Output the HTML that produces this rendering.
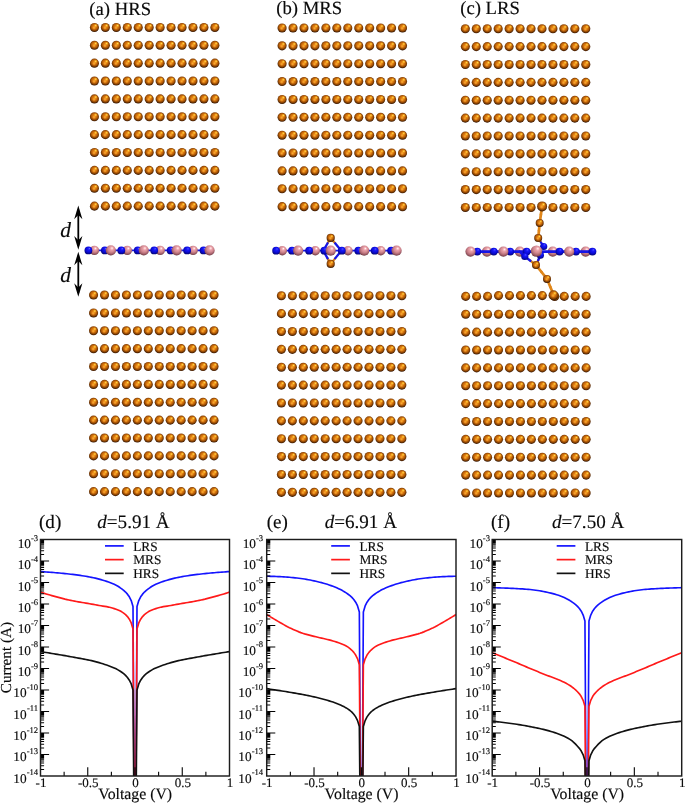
<!DOCTYPE html><html><head><meta charset="utf-8"><title>fig</title><style>html,body{margin:0;padding:0;background:#fff}svg{display:block}text{font-family:"Liberation Serif",serif;fill:#0a0a0a;stroke:#0a0a0a;stroke-width:0.15px;text-rendering:geometricPrecision}</style></head><body>
<svg width="685" height="804" viewBox="0 0 685 804">
<defs>
<radialGradient id="gcu" cx="0.5" cy="0.43" r="0.57">
<stop offset="0" stop-color="#ea8c18"/><stop offset="0.3" stop-color="#dc7a10"/><stop offset="0.5" stop-color="#c4660a"/><stop offset="0.66" stop-color="#9e5006"/><stop offset="0.8" stop-color="#743803"/><stop offset="0.92" stop-color="#4a2001"/><stop offset="1" stop-color="#2a1000"/>
</radialGradient>
<radialGradient id="ghl" cx="0.5" cy="0.5" r="0.5"><stop offset="0" stop-color="#ffe858" stop-opacity="1"/><stop offset="0.35" stop-color="#ffc030" stop-opacity="0.8"/><stop offset="1" stop-color="#ffa020" stop-opacity="0"/></radialGradient>
<radialGradient id="gsp" cx="0.5" cy="0.5" r="0.5"><stop offset="0" stop-color="#ffb438" stop-opacity="0.85"/><stop offset="1" stop-color="#ffb040" stop-opacity="0"/></radialGradient>
<radialGradient id="gb" cx="0.5" cy="0.4" r="0.63" fx="0.63" fy="0.27">
<stop offset="0" stop-color="#7c7cff"/><stop offset="0.12" stop-color="#3434ff"/><stop offset="0.3" stop-color="#1616f4"/><stop offset="0.58" stop-color="#0c0cd8"/><stop offset="0.78" stop-color="#0707a8"/><stop offset="1" stop-color="#030360"/>
</radialGradient>
<radialGradient id="gp" cx="0.5" cy="0.4" r="0.63" fx="0.63" fy="0.27">
<stop offset="0" stop-color="#ffffff"/><stop offset="0.1" stop-color="#ffd2d4"/><stop offset="0.27" stop-color="#e8a0a8"/><stop offset="0.5" stop-color="#d48a92"/><stop offset="0.7" stop-color="#b26c76"/><stop offset="0.87" stop-color="#884c56"/><stop offset="1" stop-color="#562a31"/>
</radialGradient>
<g id="cu"><circle r="4.55" fill="url(#gcu)"/><circle cx="-0.4" cy="0.4" r="1.9" fill="url(#gsp)"/><circle cx="1.25" cy="-1.85" r="2.0" fill="url(#ghl)"/></g>
<circle id="bn" r="3.9" fill="url(#gb)"/>
<circle id="bb" r="5.1" fill="url(#gp)"/>
<circle id="bs" r="4.7" fill="url(#gp)"/>
</defs>
<rect width="685" height="804" fill="#fff"/>
<g opacity="0.999">
<g><use href="#cu" x="94.43" y="27.43"/><use href="#cu" x="105.38" y="27.43"/><use href="#cu" x="116.33" y="27.43"/><use href="#cu" x="127.28" y="27.43"/><use href="#cu" x="138.23" y="27.43"/><use href="#cu" x="149.18" y="27.43"/><use href="#cu" x="160.13" y="27.43"/><use href="#cu" x="171.08" y="27.43"/><use href="#cu" x="182.03" y="27.43"/><use href="#cu" x="192.98" y="27.43"/><use href="#cu" x="203.93" y="27.43"/><use href="#cu" x="214.88" y="27.43"/><use href="#cu" x="94.43" y="45.3"/><use href="#cu" x="105.38" y="45.3"/><use href="#cu" x="116.33" y="45.3"/><use href="#cu" x="127.28" y="45.3"/><use href="#cu" x="138.23" y="45.3"/><use href="#cu" x="149.18" y="45.3"/><use href="#cu" x="160.13" y="45.3"/><use href="#cu" x="171.08" y="45.3"/><use href="#cu" x="182.03" y="45.3"/><use href="#cu" x="192.98" y="45.3"/><use href="#cu" x="203.93" y="45.3"/><use href="#cu" x="214.88" y="45.3"/><use href="#cu" x="94.43" y="63.17"/><use href="#cu" x="105.38" y="63.17"/><use href="#cu" x="116.33" y="63.17"/><use href="#cu" x="127.28" y="63.17"/><use href="#cu" x="138.23" y="63.17"/><use href="#cu" x="149.18" y="63.17"/><use href="#cu" x="160.13" y="63.17"/><use href="#cu" x="171.08" y="63.17"/><use href="#cu" x="182.03" y="63.17"/><use href="#cu" x="192.98" y="63.17"/><use href="#cu" x="203.93" y="63.17"/><use href="#cu" x="214.88" y="63.17"/><use href="#cu" x="94.43" y="81.04"/><use href="#cu" x="105.38" y="81.04"/><use href="#cu" x="116.33" y="81.04"/><use href="#cu" x="127.28" y="81.04"/><use href="#cu" x="138.23" y="81.04"/><use href="#cu" x="149.18" y="81.04"/><use href="#cu" x="160.13" y="81.04"/><use href="#cu" x="171.08" y="81.04"/><use href="#cu" x="182.03" y="81.04"/><use href="#cu" x="192.98" y="81.04"/><use href="#cu" x="203.93" y="81.04"/><use href="#cu" x="214.88" y="81.04"/><use href="#cu" x="94.43" y="98.91"/><use href="#cu" x="105.38" y="98.91"/><use href="#cu" x="116.33" y="98.91"/><use href="#cu" x="127.28" y="98.91"/><use href="#cu" x="138.23" y="98.91"/><use href="#cu" x="149.18" y="98.91"/><use href="#cu" x="160.13" y="98.91"/><use href="#cu" x="171.08" y="98.91"/><use href="#cu" x="182.03" y="98.91"/><use href="#cu" x="192.98" y="98.91"/><use href="#cu" x="203.93" y="98.91"/><use href="#cu" x="214.88" y="98.91"/><use href="#cu" x="94.43" y="116.78"/><use href="#cu" x="105.38" y="116.78"/><use href="#cu" x="116.33" y="116.78"/><use href="#cu" x="127.28" y="116.78"/><use href="#cu" x="138.23" y="116.78"/><use href="#cu" x="149.18" y="116.78"/><use href="#cu" x="160.13" y="116.78"/><use href="#cu" x="171.08" y="116.78"/><use href="#cu" x="182.03" y="116.78"/><use href="#cu" x="192.98" y="116.78"/><use href="#cu" x="203.93" y="116.78"/><use href="#cu" x="214.88" y="116.78"/><use href="#cu" x="94.43" y="134.65"/><use href="#cu" x="105.38" y="134.65"/><use href="#cu" x="116.33" y="134.65"/><use href="#cu" x="127.28" y="134.65"/><use href="#cu" x="138.23" y="134.65"/><use href="#cu" x="149.18" y="134.65"/><use href="#cu" x="160.13" y="134.65"/><use href="#cu" x="171.08" y="134.65"/><use href="#cu" x="182.03" y="134.65"/><use href="#cu" x="192.98" y="134.65"/><use href="#cu" x="203.93" y="134.65"/><use href="#cu" x="214.88" y="134.65"/><use href="#cu" x="94.43" y="152.52"/><use href="#cu" x="105.38" y="152.52"/><use href="#cu" x="116.33" y="152.52"/><use href="#cu" x="127.28" y="152.52"/><use href="#cu" x="138.23" y="152.52"/><use href="#cu" x="149.18" y="152.52"/><use href="#cu" x="160.13" y="152.52"/><use href="#cu" x="171.08" y="152.52"/><use href="#cu" x="182.03" y="152.52"/><use href="#cu" x="192.98" y="152.52"/><use href="#cu" x="203.93" y="152.52"/><use href="#cu" x="214.88" y="152.52"/><use href="#cu" x="94.43" y="170.39"/><use href="#cu" x="105.38" y="170.39"/><use href="#cu" x="116.33" y="170.39"/><use href="#cu" x="127.28" y="170.39"/><use href="#cu" x="138.23" y="170.39"/><use href="#cu" x="149.18" y="170.39"/><use href="#cu" x="160.13" y="170.39"/><use href="#cu" x="171.08" y="170.39"/><use href="#cu" x="182.03" y="170.39"/><use href="#cu" x="192.98" y="170.39"/><use href="#cu" x="203.93" y="170.39"/><use href="#cu" x="214.88" y="170.39"/><use href="#cu" x="94.43" y="188.26"/><use href="#cu" x="105.38" y="188.26"/><use href="#cu" x="116.33" y="188.26"/><use href="#cu" x="127.28" y="188.26"/><use href="#cu" x="138.23" y="188.26"/><use href="#cu" x="149.18" y="188.26"/><use href="#cu" x="160.13" y="188.26"/><use href="#cu" x="171.08" y="188.26"/><use href="#cu" x="182.03" y="188.26"/><use href="#cu" x="192.98" y="188.26"/><use href="#cu" x="203.93" y="188.26"/><use href="#cu" x="214.88" y="188.26"/><use href="#cu" x="94.43" y="206.13"/><use href="#cu" x="105.38" y="206.13"/><use href="#cu" x="116.33" y="206.13"/><use href="#cu" x="127.28" y="206.13"/><use href="#cu" x="138.23" y="206.13"/><use href="#cu" x="149.18" y="206.13"/><use href="#cu" x="160.13" y="206.13"/><use href="#cu" x="171.08" y="206.13"/><use href="#cu" x="182.03" y="206.13"/><use href="#cu" x="192.98" y="206.13"/><use href="#cu" x="203.93" y="206.13"/><use href="#cu" x="214.88" y="206.13"/><use href="#cu" x="93.56" y="295.06"/><use href="#cu" x="104.51" y="295.06"/><use href="#cu" x="115.46" y="295.06"/><use href="#cu" x="126.41" y="295.06"/><use href="#cu" x="137.36" y="295.06"/><use href="#cu" x="148.31" y="295.06"/><use href="#cu" x="159.26" y="295.06"/><use href="#cu" x="170.21" y="295.06"/><use href="#cu" x="181.16" y="295.06"/><use href="#cu" x="192.11" y="295.06"/><use href="#cu" x="203.06" y="295.06"/><use href="#cu" x="214.01" y="295.06"/><use href="#cu" x="93.56" y="312.93"/><use href="#cu" x="104.51" y="312.93"/><use href="#cu" x="115.46" y="312.93"/><use href="#cu" x="126.41" y="312.93"/><use href="#cu" x="137.36" y="312.93"/><use href="#cu" x="148.31" y="312.93"/><use href="#cu" x="159.26" y="312.93"/><use href="#cu" x="170.21" y="312.93"/><use href="#cu" x="181.16" y="312.93"/><use href="#cu" x="192.11" y="312.93"/><use href="#cu" x="203.06" y="312.93"/><use href="#cu" x="214.01" y="312.93"/><use href="#cu" x="93.56" y="330.8"/><use href="#cu" x="104.51" y="330.8"/><use href="#cu" x="115.46" y="330.8"/><use href="#cu" x="126.41" y="330.8"/><use href="#cu" x="137.36" y="330.8"/><use href="#cu" x="148.31" y="330.8"/><use href="#cu" x="159.26" y="330.8"/><use href="#cu" x="170.21" y="330.8"/><use href="#cu" x="181.16" y="330.8"/><use href="#cu" x="192.11" y="330.8"/><use href="#cu" x="203.06" y="330.8"/><use href="#cu" x="214.01" y="330.8"/><use href="#cu" x="93.56" y="348.67"/><use href="#cu" x="104.51" y="348.67"/><use href="#cu" x="115.46" y="348.67"/><use href="#cu" x="126.41" y="348.67"/><use href="#cu" x="137.36" y="348.67"/><use href="#cu" x="148.31" y="348.67"/><use href="#cu" x="159.26" y="348.67"/><use href="#cu" x="170.21" y="348.67"/><use href="#cu" x="181.16" y="348.67"/><use href="#cu" x="192.11" y="348.67"/><use href="#cu" x="203.06" y="348.67"/><use href="#cu" x="214.01" y="348.67"/><use href="#cu" x="93.56" y="366.54"/><use href="#cu" x="104.51" y="366.54"/><use href="#cu" x="115.46" y="366.54"/><use href="#cu" x="126.41" y="366.54"/><use href="#cu" x="137.36" y="366.54"/><use href="#cu" x="148.31" y="366.54"/><use href="#cu" x="159.26" y="366.54"/><use href="#cu" x="170.21" y="366.54"/><use href="#cu" x="181.16" y="366.54"/><use href="#cu" x="192.11" y="366.54"/><use href="#cu" x="203.06" y="366.54"/><use href="#cu" x="214.01" y="366.54"/><use href="#cu" x="93.56" y="384.41"/><use href="#cu" x="104.51" y="384.41"/><use href="#cu" x="115.46" y="384.41"/><use href="#cu" x="126.41" y="384.41"/><use href="#cu" x="137.36" y="384.41"/><use href="#cu" x="148.31" y="384.41"/><use href="#cu" x="159.26" y="384.41"/><use href="#cu" x="170.21" y="384.41"/><use href="#cu" x="181.16" y="384.41"/><use href="#cu" x="192.11" y="384.41"/><use href="#cu" x="203.06" y="384.41"/><use href="#cu" x="214.01" y="384.41"/><use href="#cu" x="93.56" y="402.28"/><use href="#cu" x="104.51" y="402.28"/><use href="#cu" x="115.46" y="402.28"/><use href="#cu" x="126.41" y="402.28"/><use href="#cu" x="137.36" y="402.28"/><use href="#cu" x="148.31" y="402.28"/><use href="#cu" x="159.26" y="402.28"/><use href="#cu" x="170.21" y="402.28"/><use href="#cu" x="181.16" y="402.28"/><use href="#cu" x="192.11" y="402.28"/><use href="#cu" x="203.06" y="402.28"/><use href="#cu" x="214.01" y="402.28"/><use href="#cu" x="93.56" y="420.15"/><use href="#cu" x="104.51" y="420.15"/><use href="#cu" x="115.46" y="420.15"/><use href="#cu" x="126.41" y="420.15"/><use href="#cu" x="137.36" y="420.15"/><use href="#cu" x="148.31" y="420.15"/><use href="#cu" x="159.26" y="420.15"/><use href="#cu" x="170.21" y="420.15"/><use href="#cu" x="181.16" y="420.15"/><use href="#cu" x="192.11" y="420.15"/><use href="#cu" x="203.06" y="420.15"/><use href="#cu" x="214.01" y="420.15"/><use href="#cu" x="93.56" y="438.02"/><use href="#cu" x="104.51" y="438.02"/><use href="#cu" x="115.46" y="438.02"/><use href="#cu" x="126.41" y="438.02"/><use href="#cu" x="137.36" y="438.02"/><use href="#cu" x="148.31" y="438.02"/><use href="#cu" x="159.26" y="438.02"/><use href="#cu" x="170.21" y="438.02"/><use href="#cu" x="181.16" y="438.02"/><use href="#cu" x="192.11" y="438.02"/><use href="#cu" x="203.06" y="438.02"/><use href="#cu" x="214.01" y="438.02"/><use href="#cu" x="93.56" y="455.89"/><use href="#cu" x="104.51" y="455.89"/><use href="#cu" x="115.46" y="455.89"/><use href="#cu" x="126.41" y="455.89"/><use href="#cu" x="137.36" y="455.89"/><use href="#cu" x="148.31" y="455.89"/><use href="#cu" x="159.26" y="455.89"/><use href="#cu" x="170.21" y="455.89"/><use href="#cu" x="181.16" y="455.89"/><use href="#cu" x="192.11" y="455.89"/><use href="#cu" x="203.06" y="455.89"/><use href="#cu" x="214.01" y="455.89"/><use href="#cu" x="93.56" y="473.76"/><use href="#cu" x="104.51" y="473.76"/><use href="#cu" x="115.46" y="473.76"/><use href="#cu" x="126.41" y="473.76"/><use href="#cu" x="137.36" y="473.76"/><use href="#cu" x="148.31" y="473.76"/><use href="#cu" x="159.26" y="473.76"/><use href="#cu" x="170.21" y="473.76"/><use href="#cu" x="181.16" y="473.76"/><use href="#cu" x="192.11" y="473.76"/><use href="#cu" x="203.06" y="473.76"/><use href="#cu" x="214.01" y="473.76"/><use href="#cu" x="93.56" y="491.63"/><use href="#cu" x="104.51" y="491.63"/><use href="#cu" x="115.46" y="491.63"/><use href="#cu" x="126.41" y="491.63"/><use href="#cu" x="137.36" y="491.63"/><use href="#cu" x="148.31" y="491.63"/><use href="#cu" x="159.26" y="491.63"/><use href="#cu" x="170.21" y="491.63"/><use href="#cu" x="181.16" y="491.63"/><use href="#cu" x="192.11" y="491.63"/><use href="#cu" x="203.06" y="491.63"/><use href="#cu" x="214.01" y="491.63"/></g>
<g><use href="#cu" x="282.08" y="27.96"/><use href="#cu" x="293.03" y="27.96"/><use href="#cu" x="303.98" y="27.96"/><use href="#cu" x="314.93" y="27.96"/><use href="#cu" x="325.88" y="27.96"/><use href="#cu" x="336.83" y="27.96"/><use href="#cu" x="347.78" y="27.96"/><use href="#cu" x="358.73" y="27.96"/><use href="#cu" x="369.68" y="27.96"/><use href="#cu" x="380.63" y="27.96"/><use href="#cu" x="391.58" y="27.96"/><use href="#cu" x="402.53" y="27.96"/><use href="#cu" x="282.08" y="45.83"/><use href="#cu" x="293.03" y="45.83"/><use href="#cu" x="303.98" y="45.83"/><use href="#cu" x="314.93" y="45.83"/><use href="#cu" x="325.88" y="45.83"/><use href="#cu" x="336.83" y="45.83"/><use href="#cu" x="347.78" y="45.83"/><use href="#cu" x="358.73" y="45.83"/><use href="#cu" x="369.68" y="45.83"/><use href="#cu" x="380.63" y="45.83"/><use href="#cu" x="391.58" y="45.83"/><use href="#cu" x="402.53" y="45.83"/><use href="#cu" x="282.08" y="63.7"/><use href="#cu" x="293.03" y="63.7"/><use href="#cu" x="303.98" y="63.7"/><use href="#cu" x="314.93" y="63.7"/><use href="#cu" x="325.88" y="63.7"/><use href="#cu" x="336.83" y="63.7"/><use href="#cu" x="347.78" y="63.7"/><use href="#cu" x="358.73" y="63.7"/><use href="#cu" x="369.68" y="63.7"/><use href="#cu" x="380.63" y="63.7"/><use href="#cu" x="391.58" y="63.7"/><use href="#cu" x="402.53" y="63.7"/><use href="#cu" x="282.08" y="81.57"/><use href="#cu" x="293.03" y="81.57"/><use href="#cu" x="303.98" y="81.57"/><use href="#cu" x="314.93" y="81.57"/><use href="#cu" x="325.88" y="81.57"/><use href="#cu" x="336.83" y="81.57"/><use href="#cu" x="347.78" y="81.57"/><use href="#cu" x="358.73" y="81.57"/><use href="#cu" x="369.68" y="81.57"/><use href="#cu" x="380.63" y="81.57"/><use href="#cu" x="391.58" y="81.57"/><use href="#cu" x="402.53" y="81.57"/><use href="#cu" x="282.08" y="99.44"/><use href="#cu" x="293.03" y="99.44"/><use href="#cu" x="303.98" y="99.44"/><use href="#cu" x="314.93" y="99.44"/><use href="#cu" x="325.88" y="99.44"/><use href="#cu" x="336.83" y="99.44"/><use href="#cu" x="347.78" y="99.44"/><use href="#cu" x="358.73" y="99.44"/><use href="#cu" x="369.68" y="99.44"/><use href="#cu" x="380.63" y="99.44"/><use href="#cu" x="391.58" y="99.44"/><use href="#cu" x="402.53" y="99.44"/><use href="#cu" x="282.08" y="117.31"/><use href="#cu" x="293.03" y="117.31"/><use href="#cu" x="303.98" y="117.31"/><use href="#cu" x="314.93" y="117.31"/><use href="#cu" x="325.88" y="117.31"/><use href="#cu" x="336.83" y="117.31"/><use href="#cu" x="347.78" y="117.31"/><use href="#cu" x="358.73" y="117.31"/><use href="#cu" x="369.68" y="117.31"/><use href="#cu" x="380.63" y="117.31"/><use href="#cu" x="391.58" y="117.31"/><use href="#cu" x="402.53" y="117.31"/><use href="#cu" x="282.08" y="135.18"/><use href="#cu" x="293.03" y="135.18"/><use href="#cu" x="303.98" y="135.18"/><use href="#cu" x="314.93" y="135.18"/><use href="#cu" x="325.88" y="135.18"/><use href="#cu" x="336.83" y="135.18"/><use href="#cu" x="347.78" y="135.18"/><use href="#cu" x="358.73" y="135.18"/><use href="#cu" x="369.68" y="135.18"/><use href="#cu" x="380.63" y="135.18"/><use href="#cu" x="391.58" y="135.18"/><use href="#cu" x="402.53" y="135.18"/><use href="#cu" x="282.08" y="153.05"/><use href="#cu" x="293.03" y="153.05"/><use href="#cu" x="303.98" y="153.05"/><use href="#cu" x="314.93" y="153.05"/><use href="#cu" x="325.88" y="153.05"/><use href="#cu" x="336.83" y="153.05"/><use href="#cu" x="347.78" y="153.05"/><use href="#cu" x="358.73" y="153.05"/><use href="#cu" x="369.68" y="153.05"/><use href="#cu" x="380.63" y="153.05"/><use href="#cu" x="391.58" y="153.05"/><use href="#cu" x="402.53" y="153.05"/><use href="#cu" x="282.08" y="170.92"/><use href="#cu" x="293.03" y="170.92"/><use href="#cu" x="303.98" y="170.92"/><use href="#cu" x="314.93" y="170.92"/><use href="#cu" x="325.88" y="170.92"/><use href="#cu" x="336.83" y="170.92"/><use href="#cu" x="347.78" y="170.92"/><use href="#cu" x="358.73" y="170.92"/><use href="#cu" x="369.68" y="170.92"/><use href="#cu" x="380.63" y="170.92"/><use href="#cu" x="391.58" y="170.92"/><use href="#cu" x="402.53" y="170.92"/><use href="#cu" x="282.08" y="188.79"/><use href="#cu" x="293.03" y="188.79"/><use href="#cu" x="303.98" y="188.79"/><use href="#cu" x="314.93" y="188.79"/><use href="#cu" x="325.88" y="188.79"/><use href="#cu" x="336.83" y="188.79"/><use href="#cu" x="347.78" y="188.79"/><use href="#cu" x="358.73" y="188.79"/><use href="#cu" x="369.68" y="188.79"/><use href="#cu" x="380.63" y="188.79"/><use href="#cu" x="391.58" y="188.79"/><use href="#cu" x="402.53" y="188.79"/><use href="#cu" x="282.08" y="206.66"/><use href="#cu" x="293.03" y="206.66"/><use href="#cu" x="303.98" y="206.66"/><use href="#cu" x="314.93" y="206.66"/><use href="#cu" x="325.88" y="206.66"/><use href="#cu" x="336.83" y="206.66"/><use href="#cu" x="347.78" y="206.66"/><use href="#cu" x="358.73" y="206.66"/><use href="#cu" x="369.68" y="206.66"/><use href="#cu" x="380.63" y="206.66"/><use href="#cu" x="391.58" y="206.66"/><use href="#cu" x="402.53" y="206.66"/><use href="#cu" x="281.4" y="295.76"/><use href="#cu" x="292.35" y="295.76"/><use href="#cu" x="303.3" y="295.76"/><use href="#cu" x="314.25" y="295.76"/><use href="#cu" x="325.2" y="295.76"/><use href="#cu" x="336.15" y="295.76"/><use href="#cu" x="347.1" y="295.76"/><use href="#cu" x="358.05" y="295.76"/><use href="#cu" x="369" y="295.76"/><use href="#cu" x="379.95" y="295.76"/><use href="#cu" x="390.9" y="295.76"/><use href="#cu" x="401.85" y="295.76"/><use href="#cu" x="281.4" y="313.63"/><use href="#cu" x="292.35" y="313.63"/><use href="#cu" x="303.3" y="313.63"/><use href="#cu" x="314.25" y="313.63"/><use href="#cu" x="325.2" y="313.63"/><use href="#cu" x="336.15" y="313.63"/><use href="#cu" x="347.1" y="313.63"/><use href="#cu" x="358.05" y="313.63"/><use href="#cu" x="369" y="313.63"/><use href="#cu" x="379.95" y="313.63"/><use href="#cu" x="390.9" y="313.63"/><use href="#cu" x="401.85" y="313.63"/><use href="#cu" x="281.4" y="331.5"/><use href="#cu" x="292.35" y="331.5"/><use href="#cu" x="303.3" y="331.5"/><use href="#cu" x="314.25" y="331.5"/><use href="#cu" x="325.2" y="331.5"/><use href="#cu" x="336.15" y="331.5"/><use href="#cu" x="347.1" y="331.5"/><use href="#cu" x="358.05" y="331.5"/><use href="#cu" x="369" y="331.5"/><use href="#cu" x="379.95" y="331.5"/><use href="#cu" x="390.9" y="331.5"/><use href="#cu" x="401.85" y="331.5"/><use href="#cu" x="281.4" y="349.37"/><use href="#cu" x="292.35" y="349.37"/><use href="#cu" x="303.3" y="349.37"/><use href="#cu" x="314.25" y="349.37"/><use href="#cu" x="325.2" y="349.37"/><use href="#cu" x="336.15" y="349.37"/><use href="#cu" x="347.1" y="349.37"/><use href="#cu" x="358.05" y="349.37"/><use href="#cu" x="369" y="349.37"/><use href="#cu" x="379.95" y="349.37"/><use href="#cu" x="390.9" y="349.37"/><use href="#cu" x="401.85" y="349.37"/><use href="#cu" x="281.4" y="367.24"/><use href="#cu" x="292.35" y="367.24"/><use href="#cu" x="303.3" y="367.24"/><use href="#cu" x="314.25" y="367.24"/><use href="#cu" x="325.2" y="367.24"/><use href="#cu" x="336.15" y="367.24"/><use href="#cu" x="347.1" y="367.24"/><use href="#cu" x="358.05" y="367.24"/><use href="#cu" x="369" y="367.24"/><use href="#cu" x="379.95" y="367.24"/><use href="#cu" x="390.9" y="367.24"/><use href="#cu" x="401.85" y="367.24"/><use href="#cu" x="281.4" y="385.11"/><use href="#cu" x="292.35" y="385.11"/><use href="#cu" x="303.3" y="385.11"/><use href="#cu" x="314.25" y="385.11"/><use href="#cu" x="325.2" y="385.11"/><use href="#cu" x="336.15" y="385.11"/><use href="#cu" x="347.1" y="385.11"/><use href="#cu" x="358.05" y="385.11"/><use href="#cu" x="369" y="385.11"/><use href="#cu" x="379.95" y="385.11"/><use href="#cu" x="390.9" y="385.11"/><use href="#cu" x="401.85" y="385.11"/><use href="#cu" x="281.4" y="402.98"/><use href="#cu" x="292.35" y="402.98"/><use href="#cu" x="303.3" y="402.98"/><use href="#cu" x="314.25" y="402.98"/><use href="#cu" x="325.2" y="402.98"/><use href="#cu" x="336.15" y="402.98"/><use href="#cu" x="347.1" y="402.98"/><use href="#cu" x="358.05" y="402.98"/><use href="#cu" x="369" y="402.98"/><use href="#cu" x="379.95" y="402.98"/><use href="#cu" x="390.9" y="402.98"/><use href="#cu" x="401.85" y="402.98"/><use href="#cu" x="281.4" y="420.85"/><use href="#cu" x="292.35" y="420.85"/><use href="#cu" x="303.3" y="420.85"/><use href="#cu" x="314.25" y="420.85"/><use href="#cu" x="325.2" y="420.85"/><use href="#cu" x="336.15" y="420.85"/><use href="#cu" x="347.1" y="420.85"/><use href="#cu" x="358.05" y="420.85"/><use href="#cu" x="369" y="420.85"/><use href="#cu" x="379.95" y="420.85"/><use href="#cu" x="390.9" y="420.85"/><use href="#cu" x="401.85" y="420.85"/><use href="#cu" x="281.4" y="438.72"/><use href="#cu" x="292.35" y="438.72"/><use href="#cu" x="303.3" y="438.72"/><use href="#cu" x="314.25" y="438.72"/><use href="#cu" x="325.2" y="438.72"/><use href="#cu" x="336.15" y="438.72"/><use href="#cu" x="347.1" y="438.72"/><use href="#cu" x="358.05" y="438.72"/><use href="#cu" x="369" y="438.72"/><use href="#cu" x="379.95" y="438.72"/><use href="#cu" x="390.9" y="438.72"/><use href="#cu" x="401.85" y="438.72"/><use href="#cu" x="281.4" y="456.59"/><use href="#cu" x="292.35" y="456.59"/><use href="#cu" x="303.3" y="456.59"/><use href="#cu" x="314.25" y="456.59"/><use href="#cu" x="325.2" y="456.59"/><use href="#cu" x="336.15" y="456.59"/><use href="#cu" x="347.1" y="456.59"/><use href="#cu" x="358.05" y="456.59"/><use href="#cu" x="369" y="456.59"/><use href="#cu" x="379.95" y="456.59"/><use href="#cu" x="390.9" y="456.59"/><use href="#cu" x="401.85" y="456.59"/><use href="#cu" x="281.4" y="474.46"/><use href="#cu" x="292.35" y="474.46"/><use href="#cu" x="303.3" y="474.46"/><use href="#cu" x="314.25" y="474.46"/><use href="#cu" x="325.2" y="474.46"/><use href="#cu" x="336.15" y="474.46"/><use href="#cu" x="347.1" y="474.46"/><use href="#cu" x="358.05" y="474.46"/><use href="#cu" x="369" y="474.46"/><use href="#cu" x="379.95" y="474.46"/><use href="#cu" x="390.9" y="474.46"/><use href="#cu" x="401.85" y="474.46"/><use href="#cu" x="281.4" y="492.33"/><use href="#cu" x="292.35" y="492.33"/><use href="#cu" x="303.3" y="492.33"/><use href="#cu" x="314.25" y="492.33"/><use href="#cu" x="325.2" y="492.33"/><use href="#cu" x="336.15" y="492.33"/><use href="#cu" x="347.1" y="492.33"/><use href="#cu" x="358.05" y="492.33"/><use href="#cu" x="369" y="492.33"/><use href="#cu" x="379.95" y="492.33"/><use href="#cu" x="390.9" y="492.33"/><use href="#cu" x="401.85" y="492.33"/></g>
<g><use href="#cu" x="465.33" y="28.75"/><use href="#cu" x="476.28" y="28.75"/><use href="#cu" x="487.23" y="28.75"/><use href="#cu" x="498.18" y="28.75"/><use href="#cu" x="509.13" y="28.75"/><use href="#cu" x="520.08" y="28.75"/><use href="#cu" x="531.03" y="28.75"/><use href="#cu" x="541.98" y="28.75"/><use href="#cu" x="552.93" y="28.75"/><use href="#cu" x="563.88" y="28.75"/><use href="#cu" x="574.83" y="28.75"/><use href="#cu" x="585.78" y="28.75"/><use href="#cu" x="465.33" y="46.62"/><use href="#cu" x="476.28" y="46.62"/><use href="#cu" x="487.23" y="46.62"/><use href="#cu" x="498.18" y="46.62"/><use href="#cu" x="509.13" y="46.62"/><use href="#cu" x="520.08" y="46.62"/><use href="#cu" x="531.03" y="46.62"/><use href="#cu" x="541.98" y="46.62"/><use href="#cu" x="552.93" y="46.62"/><use href="#cu" x="563.88" y="46.62"/><use href="#cu" x="574.83" y="46.62"/><use href="#cu" x="585.78" y="46.62"/><use href="#cu" x="465.33" y="64.49"/><use href="#cu" x="476.28" y="64.49"/><use href="#cu" x="487.23" y="64.49"/><use href="#cu" x="498.18" y="64.49"/><use href="#cu" x="509.13" y="64.49"/><use href="#cu" x="520.08" y="64.49"/><use href="#cu" x="531.03" y="64.49"/><use href="#cu" x="541.98" y="64.49"/><use href="#cu" x="552.93" y="64.49"/><use href="#cu" x="563.88" y="64.49"/><use href="#cu" x="574.83" y="64.49"/><use href="#cu" x="585.78" y="64.49"/><use href="#cu" x="465.33" y="82.36"/><use href="#cu" x="476.28" y="82.36"/><use href="#cu" x="487.23" y="82.36"/><use href="#cu" x="498.18" y="82.36"/><use href="#cu" x="509.13" y="82.36"/><use href="#cu" x="520.08" y="82.36"/><use href="#cu" x="531.03" y="82.36"/><use href="#cu" x="541.98" y="82.36"/><use href="#cu" x="552.93" y="82.36"/><use href="#cu" x="563.88" y="82.36"/><use href="#cu" x="574.83" y="82.36"/><use href="#cu" x="585.78" y="82.36"/><use href="#cu" x="465.33" y="100.23"/><use href="#cu" x="476.28" y="100.23"/><use href="#cu" x="487.23" y="100.23"/><use href="#cu" x="498.18" y="100.23"/><use href="#cu" x="509.13" y="100.23"/><use href="#cu" x="520.08" y="100.23"/><use href="#cu" x="531.03" y="100.23"/><use href="#cu" x="541.98" y="100.23"/><use href="#cu" x="552.93" y="100.23"/><use href="#cu" x="563.88" y="100.23"/><use href="#cu" x="574.83" y="100.23"/><use href="#cu" x="585.78" y="100.23"/><use href="#cu" x="465.33" y="118.1"/><use href="#cu" x="476.28" y="118.1"/><use href="#cu" x="487.23" y="118.1"/><use href="#cu" x="498.18" y="118.1"/><use href="#cu" x="509.13" y="118.1"/><use href="#cu" x="520.08" y="118.1"/><use href="#cu" x="531.03" y="118.1"/><use href="#cu" x="541.98" y="118.1"/><use href="#cu" x="552.93" y="118.1"/><use href="#cu" x="563.88" y="118.1"/><use href="#cu" x="574.83" y="118.1"/><use href="#cu" x="585.78" y="118.1"/><use href="#cu" x="465.33" y="135.97"/><use href="#cu" x="476.28" y="135.97"/><use href="#cu" x="487.23" y="135.97"/><use href="#cu" x="498.18" y="135.97"/><use href="#cu" x="509.13" y="135.97"/><use href="#cu" x="520.08" y="135.97"/><use href="#cu" x="531.03" y="135.97"/><use href="#cu" x="541.98" y="135.97"/><use href="#cu" x="552.93" y="135.97"/><use href="#cu" x="563.88" y="135.97"/><use href="#cu" x="574.83" y="135.97"/><use href="#cu" x="585.78" y="135.97"/><use href="#cu" x="465.33" y="153.84"/><use href="#cu" x="476.28" y="153.84"/><use href="#cu" x="487.23" y="153.84"/><use href="#cu" x="498.18" y="153.84"/><use href="#cu" x="509.13" y="153.84"/><use href="#cu" x="520.08" y="153.84"/><use href="#cu" x="531.03" y="153.84"/><use href="#cu" x="541.98" y="153.84"/><use href="#cu" x="552.93" y="153.84"/><use href="#cu" x="563.88" y="153.84"/><use href="#cu" x="574.83" y="153.84"/><use href="#cu" x="585.78" y="153.84"/><use href="#cu" x="465.33" y="171.71"/><use href="#cu" x="476.28" y="171.71"/><use href="#cu" x="487.23" y="171.71"/><use href="#cu" x="498.18" y="171.71"/><use href="#cu" x="509.13" y="171.71"/><use href="#cu" x="520.08" y="171.71"/><use href="#cu" x="531.03" y="171.71"/><use href="#cu" x="541.98" y="171.71"/><use href="#cu" x="552.93" y="171.71"/><use href="#cu" x="563.88" y="171.71"/><use href="#cu" x="574.83" y="171.71"/><use href="#cu" x="585.78" y="171.71"/><use href="#cu" x="465.33" y="189.58"/><use href="#cu" x="476.28" y="189.58"/><use href="#cu" x="487.23" y="189.58"/><use href="#cu" x="498.18" y="189.58"/><use href="#cu" x="509.13" y="189.58"/><use href="#cu" x="520.08" y="189.58"/><use href="#cu" x="531.03" y="189.58"/><use href="#cu" x="541.98" y="189.58"/><use href="#cu" x="552.93" y="189.58"/><use href="#cu" x="563.88" y="189.58"/><use href="#cu" x="574.83" y="189.58"/><use href="#cu" x="585.78" y="189.58"/><use href="#cu" x="465.33" y="207.45"/><use href="#cu" x="476.28" y="207.45"/><use href="#cu" x="487.23" y="207.45"/><use href="#cu" x="498.18" y="207.45"/><use href="#cu" x="509.13" y="207.45"/><use href="#cu" x="520.08" y="207.45"/><use href="#cu" x="531.03" y="207.45"/><use href="#cu" x="552.93" y="207.45"/><use href="#cu" x="563.88" y="207.45"/><use href="#cu" x="574.83" y="207.45"/><use href="#cu" x="585.78" y="207.45"/><use href="#cu" x="465.68" y="296.4"/><use href="#cu" x="476.63" y="296.4"/><use href="#cu" x="487.58" y="296.4"/><use href="#cu" x="498.53" y="295.6"/><use href="#cu" x="509.48" y="295.6"/><use href="#cu" x="520.43" y="295.6"/><use href="#cu" x="531.38" y="295.6"/><use href="#cu" x="542.33" y="295.6"/><use href="#cu" x="564.23" y="296.4"/><use href="#cu" x="575.18" y="296.4"/><use href="#cu" x="586.13" y="296.4"/><use href="#cu" x="465.68" y="314.27"/><use href="#cu" x="476.63" y="314.27"/><use href="#cu" x="487.58" y="314.27"/><use href="#cu" x="498.53" y="314.27"/><use href="#cu" x="509.48" y="314.27"/><use href="#cu" x="520.43" y="314.27"/><use href="#cu" x="531.38" y="314.27"/><use href="#cu" x="542.33" y="314.27"/><use href="#cu" x="553.28" y="314.27"/><use href="#cu" x="564.23" y="314.27"/><use href="#cu" x="575.18" y="314.27"/><use href="#cu" x="586.13" y="314.27"/><use href="#cu" x="465.68" y="332.14"/><use href="#cu" x="476.63" y="332.14"/><use href="#cu" x="487.58" y="332.14"/><use href="#cu" x="498.53" y="332.14"/><use href="#cu" x="509.48" y="332.14"/><use href="#cu" x="520.43" y="332.14"/><use href="#cu" x="531.38" y="332.14"/><use href="#cu" x="542.33" y="332.14"/><use href="#cu" x="553.28" y="332.14"/><use href="#cu" x="564.23" y="332.14"/><use href="#cu" x="575.18" y="332.14"/><use href="#cu" x="586.13" y="332.14"/><use href="#cu" x="465.68" y="350.01"/><use href="#cu" x="476.63" y="350.01"/><use href="#cu" x="487.58" y="350.01"/><use href="#cu" x="498.53" y="350.01"/><use href="#cu" x="509.48" y="350.01"/><use href="#cu" x="520.43" y="350.01"/><use href="#cu" x="531.38" y="350.01"/><use href="#cu" x="542.33" y="350.01"/><use href="#cu" x="553.28" y="350.01"/><use href="#cu" x="564.23" y="350.01"/><use href="#cu" x="575.18" y="350.01"/><use href="#cu" x="586.13" y="350.01"/><use href="#cu" x="465.68" y="367.88"/><use href="#cu" x="476.63" y="367.88"/><use href="#cu" x="487.58" y="367.88"/><use href="#cu" x="498.53" y="367.88"/><use href="#cu" x="509.48" y="367.88"/><use href="#cu" x="520.43" y="367.88"/><use href="#cu" x="531.38" y="367.88"/><use href="#cu" x="542.33" y="367.88"/><use href="#cu" x="553.28" y="367.88"/><use href="#cu" x="564.23" y="367.88"/><use href="#cu" x="575.18" y="367.88"/><use href="#cu" x="586.13" y="367.88"/><use href="#cu" x="465.68" y="385.75"/><use href="#cu" x="476.63" y="385.75"/><use href="#cu" x="487.58" y="385.75"/><use href="#cu" x="498.53" y="385.75"/><use href="#cu" x="509.48" y="385.75"/><use href="#cu" x="520.43" y="385.75"/><use href="#cu" x="531.38" y="385.75"/><use href="#cu" x="542.33" y="385.75"/><use href="#cu" x="553.28" y="385.75"/><use href="#cu" x="564.23" y="385.75"/><use href="#cu" x="575.18" y="385.75"/><use href="#cu" x="586.13" y="385.75"/><use href="#cu" x="465.68" y="403.62"/><use href="#cu" x="476.63" y="403.62"/><use href="#cu" x="487.58" y="403.62"/><use href="#cu" x="498.53" y="403.62"/><use href="#cu" x="509.48" y="403.62"/><use href="#cu" x="520.43" y="403.62"/><use href="#cu" x="531.38" y="403.62"/><use href="#cu" x="542.33" y="403.62"/><use href="#cu" x="553.28" y="403.62"/><use href="#cu" x="564.23" y="403.62"/><use href="#cu" x="575.18" y="403.62"/><use href="#cu" x="586.13" y="403.62"/><use href="#cu" x="465.68" y="421.49"/><use href="#cu" x="476.63" y="421.49"/><use href="#cu" x="487.58" y="421.49"/><use href="#cu" x="498.53" y="421.49"/><use href="#cu" x="509.48" y="421.49"/><use href="#cu" x="520.43" y="421.49"/><use href="#cu" x="531.38" y="421.49"/><use href="#cu" x="542.33" y="421.49"/><use href="#cu" x="553.28" y="421.49"/><use href="#cu" x="564.23" y="421.49"/><use href="#cu" x="575.18" y="421.49"/><use href="#cu" x="586.13" y="421.49"/><use href="#cu" x="465.68" y="439.36"/><use href="#cu" x="476.63" y="439.36"/><use href="#cu" x="487.58" y="439.36"/><use href="#cu" x="498.53" y="439.36"/><use href="#cu" x="509.48" y="439.36"/><use href="#cu" x="520.43" y="439.36"/><use href="#cu" x="531.38" y="439.36"/><use href="#cu" x="542.33" y="439.36"/><use href="#cu" x="553.28" y="439.36"/><use href="#cu" x="564.23" y="439.36"/><use href="#cu" x="575.18" y="439.36"/><use href="#cu" x="586.13" y="439.36"/><use href="#cu" x="465.68" y="457.23"/><use href="#cu" x="476.63" y="457.23"/><use href="#cu" x="487.58" y="457.23"/><use href="#cu" x="498.53" y="457.23"/><use href="#cu" x="509.48" y="457.23"/><use href="#cu" x="520.43" y="457.23"/><use href="#cu" x="531.38" y="457.23"/><use href="#cu" x="542.33" y="457.23"/><use href="#cu" x="553.28" y="457.23"/><use href="#cu" x="564.23" y="457.23"/><use href="#cu" x="575.18" y="457.23"/><use href="#cu" x="586.13" y="457.23"/><use href="#cu" x="465.68" y="475.1"/><use href="#cu" x="476.63" y="475.1"/><use href="#cu" x="487.58" y="475.1"/><use href="#cu" x="498.53" y="475.1"/><use href="#cu" x="509.48" y="475.1"/><use href="#cu" x="520.43" y="475.1"/><use href="#cu" x="531.38" y="475.1"/><use href="#cu" x="542.33" y="475.1"/><use href="#cu" x="553.28" y="475.1"/><use href="#cu" x="564.23" y="475.1"/><use href="#cu" x="575.18" y="475.1"/><use href="#cu" x="586.13" y="475.1"/><use href="#cu" x="465.68" y="492.97"/><use href="#cu" x="476.63" y="492.97"/><use href="#cu" x="487.58" y="492.97"/><use href="#cu" x="498.53" y="492.97"/><use href="#cu" x="509.48" y="492.97"/><use href="#cu" x="520.43" y="492.97"/><use href="#cu" x="531.38" y="492.97"/><use href="#cu" x="542.33" y="492.97"/><use href="#cu" x="553.28" y="492.97"/><use href="#cu" x="564.23" y="492.97"/><use href="#cu" x="575.18" y="492.97"/><use href="#cu" x="586.13" y="492.97"/></g>
<line x1="88" y1="250.4" x2="209" y2="250.4" stroke="#1a1ae0" stroke-width="1.6"/>
<g><use href="#bs" x="94.4" y="250.4"/><use href="#bn" x="88.4" y="250.4"/><use href="#bn" x="104.85" y="250.4"/><use href="#bb" x="110.85" y="250.4"/><use href="#bs" x="127.3" y="250.4"/><use href="#bn" x="121.3" y="250.4"/><use href="#bn" x="137.75" y="250.4"/><use href="#bb" x="143.75" y="250.4"/><use href="#bs" x="160.2" y="250.4"/><use href="#bn" x="154.2" y="250.4"/><use href="#bn" x="170.65" y="250.4"/><use href="#bb" x="176.65" y="250.4"/><use href="#bs" x="193.1" y="250.4"/><use href="#bn" x="187.1" y="250.4"/><use href="#bn" x="203.55" y="250.4"/><use href="#bb" x="209.55" y="250.4"/></g>
<g><line x1="275" y1="250.7" x2="396" y2="250.7" stroke="#1515e6" stroke-width="1.8"/><line x1="330.7" y1="237.9" x2="327.59" y2="243.28" stroke="#e0861a" stroke-width="2.3" stroke-linecap="round"/><line x1="327.59" y1="243.28" x2="323.3" y2="250.7" stroke="#1515e6" stroke-width="2.3" stroke-linecap="round"/><line x1="330.7" y1="237.9" x2="335.15" y2="243.28" stroke="#e0861a" stroke-width="2.3" stroke-linecap="round"/><line x1="335.15" y1="243.28" x2="341.3" y2="250.7" stroke="#1515e6" stroke-width="2.3" stroke-linecap="round"/><line x1="330.7" y1="263.9" x2="327.59" y2="258.36" stroke="#e0861a" stroke-width="2.3" stroke-linecap="round"/><line x1="327.59" y1="258.36" x2="323.3" y2="250.7" stroke="#1515e6" stroke-width="2.3" stroke-linecap="round"/><line x1="330.7" y1="263.9" x2="335.15" y2="258.36" stroke="#e0861a" stroke-width="2.3" stroke-linecap="round"/><line x1="335.15" y1="258.36" x2="341.3" y2="250.7" stroke="#1515e6" stroke-width="2.3" stroke-linecap="round"/><use href="#bs" x="282.3" y="250.7"/><use href="#bn" x="276.1" y="250.7"/><use href="#bn" x="292" y="250.7"/><use href="#bb" x="298.1" y="250.7"/><use href="#bs" x="315.3" y="250.7"/><use href="#bn" x="309.1" y="250.7"/><use href="#bn" x="324.3" y="250.7"/><use href="#bb" x="330.7" y="250.7"/><use href="#bs" x="348" y="250.7"/><use href="#bn" x="341.8" y="250.7"/><use href="#bn" x="358.3" y="250.7"/><use href="#bb" x="364.2" y="250.7"/><use href="#bs" x="380.8" y="250.7"/><use href="#bn" x="374.7" y="250.7"/><use href="#bn" x="391.1" y="250.7"/><use href="#bb" x="396.6" y="250.7"/><use href="#cu" transform="translate(330.7 237.9) scale(0.9)"/><use href="#cu" transform="translate(330.7 263.9) scale(0.9)"/></g>
<g><use href="#bb" x="486.95" y="251.6"/><use href="#bb" x="519.85" y="251.6"/><use href="#bb" x="552.75" y="251.6"/><use href="#bb" x="585.65" y="251.6"/><line x1="474" y1="251.6" x2="592" y2="251.6" stroke="#1515e6" stroke-width="2.8"/><line x1="542.1" y1="206" x2="540.9" y2="214.5" stroke="#e0861a" stroke-width="2.7" stroke-linecap="round"/><line x1="540.9" y1="214.5" x2="539.7" y2="223" stroke="#e0861a" stroke-width="2.7" stroke-linecap="round"/><line x1="539.7" y1="223" x2="538.95" y2="230.55" stroke="#e0861a" stroke-width="2.7" stroke-linecap="round"/><line x1="538.95" y1="230.55" x2="538.2" y2="238.1" stroke="#e0861a" stroke-width="2.7" stroke-linecap="round"/><line x1="538.2" y1="238.1" x2="540.95" y2="242.3" stroke="#e0861a" stroke-width="2.2" stroke-linecap="round"/><line x1="540.95" y1="242.3" x2="543.7" y2="246.5" stroke="#1515e6" stroke-width="2.2" stroke-linecap="round"/><line x1="536" y1="265.1" x2="541.5" y2="272" stroke="#e0861a" stroke-width="2.7" stroke-linecap="round"/><line x1="541.5" y1="272" x2="547" y2="278.9" stroke="#e0861a" stroke-width="2.7" stroke-linecap="round"/><line x1="547" y1="278.9" x2="550.25" y2="286.85" stroke="#e0861a" stroke-width="2.7" stroke-linecap="round"/><line x1="550.25" y1="286.85" x2="553.5" y2="294.8" stroke="#e0861a" stroke-width="2.7" stroke-linecap="round"/><line x1="536" y1="265.1" x2="530.4" y2="260.8" stroke="#e0861a" stroke-width="2.4" stroke-linecap="round"/><line x1="530.4" y1="260.8" x2="524.8" y2="256.5" stroke="#1515e6" stroke-width="2.4" stroke-linecap="round"/><line x1="536" y1="265.1" x2="538.2" y2="260.15" stroke="#e0861a" stroke-width="2.4" stroke-linecap="round"/><line x1="538.2" y1="260.15" x2="540.4" y2="255.2" stroke="#1515e6" stroke-width="2.4" stroke-linecap="round"/><line x1="524.8" y1="256.5" x2="522.2" y2="254.05" stroke="#1515e6" stroke-width="2.4" stroke-linecap="round"/><line x1="522.2" y1="254.05" x2="519.6" y2="251.6" stroke="#1515e6" stroke-width="2.4" stroke-linecap="round"/><use href="#bn" x="477.3" y="251.6"/><use href="#bn" x="493.75" y="251.6"/><use href="#bn" x="510.2" y="251.6"/><use href="#bn" x="526.65" y="251.6"/><use href="#bn" x="559.55" y="251.6"/><use href="#bn" x="576" y="251.6"/><use href="#bn" x="592.45" y="251.6"/><use href="#bb" x="470.5" y="251.6"/><use href="#bb" x="503.4" y="251.6"/><use href="#bb" x="569.2" y="251.6"/><circle cx="543.7" cy="246.5" r="3.6" fill="url(#gb)"/><circle cx="524.8" cy="256.5" r="3.6" fill="url(#gb)"/><circle cx="540.4" cy="255.2" r="3.6" fill="url(#gb)"/><circle cx="536.5" cy="251.1" r="5.7" fill="url(#gp)"/><use href="#cu" transform="translate(539.7 223) scale(0.88)"/><use href="#cu" transform="translate(538.2 238.1) scale(0.88)"/><use href="#cu" transform="translate(536 265.1) scale(0.88)"/><use href="#cu" transform="translate(547 278.9) scale(0.88)"/><use href="#cu" transform="translate(542.1 206.4) scale(1.1)"/><use href="#cu" transform="translate(554.7 296.4) scale(1.01)"/><use href="#cu" transform="translate(553.5 295.2) scale(1.08)"/></g>
<text x="89.3" y="14.7" font-size="18.7">(a) HRS</text>
<text x="276.2" y="13.9" font-size="18.7">(b) MRS</text>
<text x="460.2" y="13.9" font-size="18.7">(c) LRS</text>
<line x1="78.3" y1="209.6" x2="78.3" y2="245.7" stroke="#000" stroke-width="1.8"/><path d="M78.3 205.6 L82.39999999999999 219.2 L78.3 215.0 L74.2 219.2 Z" fill="#000"/><path d="M78.3 249.7 L82.39999999999999 236.1 L78.3 240.29999999999998 L74.2 236.1 Z" fill="#000"/>
<line x1="78.3" y1="255.7" x2="78.3" y2="292.8" stroke="#000" stroke-width="1.8"/><path d="M78.3 251.7 L82.39999999999999 265.3 L78.3 261.1 L74.2 265.3 Z" fill="#000"/><path d="M78.3 296.8 L82.39999999999999 283.2 L78.3 287.4 L74.2 283.2 Z" fill="#000"/>
<text x="60.3" y="236.6" font-size="21.5" font-style="italic">d</text>
<text x="60.3" y="282.3" font-size="21.5" font-style="italic">d</text>
<clipPath id="cp0"><rect x="40.5" y="539.5" width="189.0" height="236.5"/></clipPath>
<g clip-path="url(#cp0)"><path d="M40.5 571.57 L42.39 571.69 L44.28 571.82 L46.17 571.96 L48.06 572.09 L49.95 572.24 L51.84 572.38 L53.73 572.54 L55.62 572.7 L57.51 572.86 L59.4 573.03 L61.29 573.21 L63.18 573.39 L65.07 573.59 L66.96 573.78 L68.85 573.99 L70.74 574.2 L72.63 574.42 L74.52 574.66 L76.41 574.9 L78.3 575.16 L80.19 575.42 L82.08 575.7 L83.97 575.98 L85.86 576.28 L87.75 576.6 L89.64 576.95 L91.53 577.32 L93.42 577.73 L95.31 578.17 L97.2 578.64 L99.09 579.13 L100.98 579.65 L102.87 580.2 L104.76 580.78 L106.65 581.4 L108.54 582.04 L110.43 582.73 L112.32 583.48 L114.21 584.29 L116.1 585.2 L117.99 586.3 L119.88 587.56 L121.77 588.91 L123.66 590.36 L125.55 592.06 L127.44 594.15 L129.33 596.83 L131.22 600.6 L133 606.52 L135 937.58 L137 606.52 L138.78 600.6 L140.67 596.83 L142.56 594.15 L144.45 592.06 L146.34 590.36 L148.23 588.91 L150.12 587.56 L152.01 586.3 L153.9 585.2 L155.79 584.29 L157.68 583.48 L159.57 582.73 L161.46 582.04 L163.35 581.4 L165.24 580.78 L167.13 580.2 L169.02 579.65 L170.91 579.13 L172.8 578.64 L174.69 578.17 L176.58 577.73 L178.47 577.32 L180.36 576.95 L182.25 576.6 L184.14 576.28 L186.03 575.98 L187.92 575.7 L189.81 575.42 L191.7 575.16 L193.59 574.9 L195.48 574.66 L197.37 574.42 L199.26 574.2 L201.15 573.99 L203.04 573.78 L204.93 573.59 L206.82 573.39 L208.71 573.21 L210.6 573.03 L212.49 572.86 L214.38 572.7 L216.27 572.54 L218.16 572.38 L220.05 572.24 L221.94 572.09 L223.83 571.96 L225.72 571.82 L227.61 571.69 L229.5 571.57" fill="none" stroke="#1414ff" stroke-width="1.65" stroke-linejoin="round"/><path d="M40.5 592.1 L42.39 592.74 L44.28 593.37 L46.17 593.96 L48.06 594.52 L49.95 595.07 L51.84 595.6 L53.73 596.12 L55.62 596.62 L57.51 597.12 L59.4 597.63 L61.29 598.15 L63.18 598.65 L65.07 599.14 L66.96 599.58 L68.85 599.99 L70.74 600.38 L72.63 600.78 L74.52 601.17 L76.41 601.53 L78.3 601.86 L80.19 602.18 L82.08 602.48 L83.97 602.79 L85.86 603.11 L87.75 603.43 L89.64 603.76 L91.53 604.1 L93.42 604.43 L95.31 604.76 L97.2 605.09 L99.09 605.44 L100.98 605.77 L102.87 606.06 L104.76 606.35 L106.65 606.67 L108.54 607.07 L110.43 607.53 L112.32 608.04 L114.21 608.62 L116.1 609.26 L117.99 609.98 L119.88 610.82 L121.77 611.84 L123.66 613.1 L125.55 614.61 L127.44 616.55 L129.33 619.19 L131.22 622.98 L133 628.92 L135 937.58 L137 628.92 L138.78 622.98 L140.67 619.19 L142.56 616.55 L144.45 614.61 L146.34 613.1 L148.23 611.84 L150.12 610.82 L152.01 609.98 L153.9 609.26 L155.79 608.62 L157.68 608.04 L159.57 607.53 L161.46 607.07 L163.35 606.67 L165.24 606.35 L167.13 606.06 L169.02 605.77 L170.91 605.44 L172.8 605.09 L174.69 604.76 L176.58 604.43 L178.47 604.1 L180.36 603.76 L182.25 603.43 L184.14 603.11 L186.03 602.79 L187.92 602.48 L189.81 602.18 L191.7 601.86 L193.59 601.53 L195.48 601.17 L197.37 600.78 L199.26 600.38 L201.15 599.99 L203.04 599.58 L204.93 599.14 L206.82 598.65 L208.71 598.15 L210.6 597.63 L212.49 597.12 L214.38 596.62 L216.27 596.12 L218.16 595.6 L220.05 595.07 L221.94 594.52 L223.83 593.96 L225.72 593.37 L227.61 592.74 L229.5 592.1" fill="none" stroke="#ff1a1a" stroke-width="1.65" stroke-linejoin="round"/><path d="M40.5 651.57 L42.39 651.88 L44.28 652.19 L46.17 652.5 L48.06 652.81 L49.95 653.13 L51.84 653.44 L53.73 653.76 L55.62 654.07 L57.51 654.39 L59.4 654.71 L61.29 655.03 L63.18 655.35 L65.07 655.68 L66.96 656.02 L68.85 656.36 L70.74 656.71 L72.63 657.06 L74.52 657.41 L76.41 657.75 L78.3 658.09 L80.19 658.43 L82.08 658.78 L83.97 659.13 L85.86 659.49 L87.75 659.87 L89.64 660.26 L91.53 660.67 L93.42 661.11 L95.31 661.58 L97.2 662.09 L99.09 662.63 L100.98 663.21 L102.87 663.8 L104.76 664.42 L106.65 665.05 L108.54 665.7 L110.43 666.4 L112.32 667.15 L114.21 667.96 L116.1 668.85 L117.99 669.86 L119.88 670.99 L121.77 672.25 L123.66 673.7 L125.55 675.4 L127.44 677.49 L129.33 680.18 L131.22 683.96 L133 689.89 L135 937.58 L137 689.89 L138.78 683.96 L140.67 680.18 L142.56 677.49 L144.45 675.4 L146.34 673.7 L148.23 672.25 L150.12 670.99 L152.01 669.86 L153.9 668.85 L155.79 667.96 L157.68 667.15 L159.57 666.4 L161.46 665.7 L163.35 665.05 L165.24 664.42 L167.13 663.8 L169.02 663.21 L170.91 662.63 L172.8 662.09 L174.69 661.58 L176.58 661.11 L178.47 660.67 L180.36 660.26 L182.25 659.87 L184.14 659.49 L186.03 659.13 L187.92 658.78 L189.81 658.43 L191.7 658.09 L193.59 657.75 L195.48 657.41 L197.37 657.06 L199.26 656.71 L201.15 656.36 L203.04 656.02 L204.93 655.68 L206.82 655.35 L208.71 655.03 L210.6 654.71 L212.49 654.39 L214.38 654.07 L216.27 653.76 L218.16 653.44 L220.05 653.13 L221.94 652.81 L223.83 652.5 L225.72 652.19 L227.61 651.88 L229.5 651.57" fill="none" stroke="#111" stroke-width="1.65" stroke-linejoin="round"/></g>
<path d="M40.5 554.53 h3.6 M40.5 550.74 h3.6 M40.5 548.06 h3.6 M40.5 545.97 h3.6 M40.5 544.27 h3.6 M40.5 542.83 h3.6 M40.5 541.58 h3.6 M40.5 540.48 h3.6 M40.5 561 h8.6 M40.5 576.03 h3.6 M40.5 572.24 h3.6 M40.5 569.56 h3.6 M40.5 567.47 h3.6 M40.5 565.77 h3.6 M40.5 564.33 h3.6 M40.5 563.08 h3.6 M40.5 561.98 h3.6 M40.5 582.5 h8.6 M40.5 597.53 h3.6 M40.5 593.74 h3.6 M40.5 591.06 h3.6 M40.5 588.97 h3.6 M40.5 587.27 h3.6 M40.5 585.83 h3.6 M40.5 584.58 h3.6 M40.5 583.48 h3.6 M40.5 604 h8.6 M40.5 619.03 h3.6 M40.5 615.24 h3.6 M40.5 612.56 h3.6 M40.5 610.47 h3.6 M40.5 608.77 h3.6 M40.5 607.33 h3.6 M40.5 606.08 h3.6 M40.5 604.98 h3.6 M40.5 625.5 h8.6 M40.5 640.53 h3.6 M40.5 636.74 h3.6 M40.5 634.06 h3.6 M40.5 631.97 h3.6 M40.5 630.27 h3.6 M40.5 628.83 h3.6 M40.5 627.58 h3.6 M40.5 626.48 h3.6 M40.5 647 h8.6 M40.5 662.03 h3.6 M40.5 658.24 h3.6 M40.5 655.56 h3.6 M40.5 653.47 h3.6 M40.5 651.77 h3.6 M40.5 650.33 h3.6 M40.5 649.08 h3.6 M40.5 647.98 h3.6 M40.5 668.5 h8.6 M40.5 683.53 h3.6 M40.5 679.74 h3.6 M40.5 677.06 h3.6 M40.5 674.97 h3.6 M40.5 673.27 h3.6 M40.5 671.83 h3.6 M40.5 670.58 h3.6 M40.5 669.48 h3.6 M40.5 690 h8.6 M40.5 705.03 h3.6 M40.5 701.24 h3.6 M40.5 698.56 h3.6 M40.5 696.47 h3.6 M40.5 694.77 h3.6 M40.5 693.33 h3.6 M40.5 692.08 h3.6 M40.5 690.98 h3.6 M40.5 711.5 h8.6 M40.5 726.53 h3.6 M40.5 722.74 h3.6 M40.5 720.06 h3.6 M40.5 717.97 h3.6 M40.5 716.27 h3.6 M40.5 714.83 h3.6 M40.5 713.58 h3.6 M40.5 712.48 h3.6 M40.5 733 h8.6 M40.5 748.03 h3.6 M40.5 744.24 h3.6 M40.5 741.56 h3.6 M40.5 739.47 h3.6 M40.5 737.77 h3.6 M40.5 736.33 h3.6 M40.5 735.08 h3.6 M40.5 733.98 h3.6 M40.5 754.5 h8.6 M40.5 769.53 h3.6 M40.5 765.74 h3.6 M40.5 763.06 h3.6 M40.5 760.97 h3.6 M40.5 759.27 h3.6 M40.5 757.83 h3.6 M40.5 756.58 h3.6 M40.5 755.48 h3.6 M64.12 776.0 v-4.2 M87.75 776.0 v-8.8 M111.38 776.0 v-4.2 M135 776.0 v-8.8 M158.62 776.0 v-4.2 M182.25 776.0 v-8.8 M205.88 776.0 v-4.2" stroke="#000" stroke-width="1.1" fill="none"/>
<rect x="40.5" y="539.5" width="189.0" height="236.5" fill="none" stroke="#1c1c1c" stroke-width="1.45"/>
<text x="30.94" y="548.1" font-size="13.3" text-anchor="end">10</text>
<text x="38.1" y="540.8" font-size="8.6" text-anchor="end">-3</text>
<text x="30.94" y="569.41" font-size="13.3" text-anchor="end">10</text>
<text x="38.1" y="562.11" font-size="8.6" text-anchor="end">-4</text>
<text x="30.94" y="590.72" font-size="13.3" text-anchor="end">10</text>
<text x="38.1" y="583.42" font-size="8.6" text-anchor="end">-5</text>
<text x="30.94" y="612.03" font-size="13.3" text-anchor="end">10</text>
<text x="38.1" y="604.73" font-size="8.6" text-anchor="end">-6</text>
<text x="30.94" y="633.34" font-size="13.3" text-anchor="end">10</text>
<text x="38.1" y="626.04" font-size="8.6" text-anchor="end">-7</text>
<text x="30.94" y="654.65" font-size="13.3" text-anchor="end">10</text>
<text x="38.1" y="647.35" font-size="8.6" text-anchor="end">-8</text>
<text x="30.94" y="675.96" font-size="13.3" text-anchor="end">10</text>
<text x="38.1" y="668.66" font-size="8.6" text-anchor="end">-9</text>
<text x="26.64" y="697.27" font-size="13.3" text-anchor="end">10</text>
<text x="38.1" y="689.97" font-size="8.6" text-anchor="end">-10</text>
<text x="26.64" y="718.58" font-size="13.3" text-anchor="end">10</text>
<text x="38.1" y="711.28" font-size="8.6" text-anchor="end">-11</text>
<text x="26.64" y="739.89" font-size="13.3" text-anchor="end">10</text>
<text x="38.1" y="732.59" font-size="8.6" text-anchor="end">-12</text>
<text x="26.64" y="761.2" font-size="13.3" text-anchor="end">10</text>
<text x="38.1" y="753.9" font-size="8.6" text-anchor="end">-13</text>
<text x="26.64" y="782.51" font-size="13.3" text-anchor="end">10</text>
<text x="38.1" y="775.21" font-size="8.6" text-anchor="end">-14</text>
<text x="41" y="787" font-size="13" text-anchor="middle">-1</text>
<text x="88.25" y="787" font-size="13" text-anchor="middle">-0.5</text>
<text x="135.5" y="787" font-size="13" text-anchor="middle">0</text>
<text x="182.75" y="787" font-size="13" text-anchor="middle">0.5</text>
<text x="230" y="787" font-size="13" text-anchor="middle">1</text>
<text x="135.2" y="799.2" font-size="15.8" text-anchor="middle">Voltage (V)</text>
<line x1="105" y1="545.9" x2="123.7" y2="545.9" stroke="#1414ff" stroke-width="1.7"/>
<text x="133.2" y="550.6" font-size="13.3">LRS</text>
<line x1="105" y1="559.63" x2="123.7" y2="559.63" stroke="#ff1a1a" stroke-width="1.7"/>
<text x="133.2" y="564.33" font-size="13.3">MRS</text>
<line x1="105" y1="573.36" x2="123.7" y2="573.36" stroke="#111" stroke-width="1.7"/>
<text x="133.2" y="578.06" font-size="13.3">HRS</text>
<text x="39" y="527.6" font-size="19.1">(d)</text>
<text x="97.3" y="527.6" font-size="19.1"><tspan font-style="italic">d</tspan>=5.91 Å</text>
<clipPath id="cp1"><rect x="266.7" y="539.5" width="189.3" height="236.5"/></clipPath>
<g clip-path="url(#cp1)"><path d="M266.7 576.27 L268.59 576.3 L270.49 576.33 L272.38 576.37 L274.27 576.42 L276.17 576.49 L278.06 576.57 L279.95 576.66 L281.84 576.76 L283.74 576.87 L285.63 577 L287.52 577.14 L289.42 577.3 L291.31 577.47 L293.2 577.65 L295.1 577.84 L296.99 578.04 L298.88 578.25 L300.77 578.48 L302.67 578.74 L304.56 579.03 L306.45 579.35 L308.35 579.69 L310.24 580.05 L312.13 580.44 L314.03 580.85 L315.92 581.27 L317.81 581.72 L319.7 582.18 L321.6 582.67 L323.49 583.19 L325.38 583.74 L327.28 584.33 L329.17 584.95 L331.06 585.61 L332.96 586.3 L334.85 587.04 L336.74 587.83 L338.63 588.68 L340.53 589.6 L342.42 590.59 L344.31 591.69 L346.21 592.9 L348.1 594.23 L349.99 595.68 L351.89 597.39 L353.78 599.47 L355.67 602.17 L357.56 605.96 L359.34 611.9 L361.35 937.58 L363.36 611.9 L365.14 605.96 L367.03 602.17 L368.92 599.47 L370.81 597.39 L372.71 595.68 L374.6 594.23 L376.49 592.9 L378.39 591.69 L380.28 590.59 L382.17 589.6 L384.07 588.68 L385.96 587.83 L387.85 587.04 L389.75 586.3 L391.64 585.61 L393.53 584.95 L395.42 584.33 L397.32 583.74 L399.21 583.19 L401.1 582.67 L403 582.18 L404.89 581.72 L406.78 581.27 L408.68 580.85 L410.57 580.44 L412.46 580.05 L414.35 579.69 L416.25 579.35 L418.14 579.03 L420.03 578.74 L421.93 578.48 L423.82 578.25 L425.71 578.04 L427.61 577.84 L429.5 577.65 L431.39 577.47 L433.28 577.3 L435.18 577.14 L437.07 577 L438.96 576.87 L440.86 576.76 L442.75 576.66 L444.64 576.57 L446.54 576.49 L448.43 576.42 L450.32 576.37 L452.21 576.33 L454.11 576.3 L456 576.27" fill="none" stroke="#1414ff" stroke-width="1.65" stroke-linejoin="round"/><path d="M266.7 614.52 L268.59 615.7 L270.49 616.87 L272.38 618.02 L274.27 619.14 L276.17 620.25 L278.06 621.35 L279.95 622.46 L281.84 623.56 L283.74 624.65 L285.63 625.7 L287.52 626.71 L289.42 627.65 L291.31 628.52 L293.2 629.39 L295.1 630.24 L296.99 631.08 L298.88 631.88 L300.77 632.63 L302.67 633.3 L304.56 633.89 L306.45 634.39 L308.35 634.88 L310.24 635.37 L312.13 635.86 L314.03 636.34 L315.92 636.81 L317.81 637.26 L319.7 637.7 L321.6 638.12 L323.49 638.55 L325.38 638.98 L327.28 639.43 L329.17 639.9 L331.06 640.39 L332.96 640.92 L334.85 641.49 L336.74 642.11 L338.63 642.77 L340.53 643.49 L342.42 644.27 L344.31 645.09 L346.21 646.02 L348.1 647.15 L349.99 648.57 L351.89 650.28 L353.78 652.37 L355.67 655.06 L357.56 658.85 L359.34 664.79 L361.35 937.58 L363.36 664.79 L365.14 658.85 L367.03 655.06 L368.92 652.37 L370.81 650.28 L372.71 648.57 L374.6 647.15 L376.49 646.02 L378.39 645.09 L380.28 644.27 L382.17 643.49 L384.07 642.77 L385.96 642.11 L387.85 641.49 L389.75 640.92 L391.64 640.39 L393.53 639.9 L395.42 639.43 L397.32 638.98 L399.21 638.55 L401.1 638.12 L403 637.7 L404.89 637.26 L406.78 636.81 L408.68 636.34 L410.57 635.86 L412.46 635.37 L414.35 634.88 L416.25 634.39 L418.14 633.89 L420.03 633.3 L421.93 632.63 L423.82 631.88 L425.71 631.08 L427.61 630.24 L429.5 629.39 L431.39 628.52 L433.28 627.65 L435.18 626.71 L437.07 625.7 L438.96 624.65 L440.86 623.56 L442.75 622.46 L444.64 621.35 L446.54 620.25 L448.43 619.14 L450.32 618.02 L452.21 616.87 L454.11 615.7 L456 614.52" fill="none" stroke="#ff1a1a" stroke-width="1.65" stroke-linejoin="round"/><path d="M266.7 688.63 L268.59 688.91 L270.49 689.2 L272.38 689.48 L274.27 689.77 L276.17 690.06 L278.06 690.36 L279.95 690.65 L281.84 690.95 L283.74 691.26 L285.63 691.56 L287.52 691.87 L289.42 692.19 L291.31 692.5 L293.2 692.83 L295.1 693.15 L296.99 693.49 L298.88 693.82 L300.77 694.17 L302.67 694.52 L304.56 694.89 L306.45 695.26 L308.35 695.64 L310.24 696.04 L312.13 696.44 L314.03 696.86 L315.92 697.29 L317.81 697.74 L319.7 698.2 L321.6 698.69 L323.49 699.19 L325.38 699.73 L327.28 700.28 L329.17 700.86 L331.06 701.47 L332.96 702.09 L334.85 702.75 L336.74 703.45 L338.63 704.2 L340.53 705.02 L342.42 705.91 L344.31 706.86 L346.21 707.91 L348.1 709.1 L349.99 710.5 L351.89 712.16 L353.78 714.21 L355.67 716.86 L357.56 720.62 L359.34 726.52 L361.35 937.58 L363.36 726.52 L365.14 720.62 L367.03 716.86 L368.92 714.21 L370.81 712.16 L372.71 710.5 L374.6 709.1 L376.49 707.91 L378.39 706.86 L380.28 705.91 L382.17 705.02 L384.07 704.2 L385.96 703.45 L387.85 702.75 L389.75 702.09 L391.64 701.47 L393.53 700.86 L395.42 700.28 L397.32 699.73 L399.21 699.19 L401.1 698.69 L403 698.2 L404.89 697.74 L406.78 697.29 L408.68 696.86 L410.57 696.44 L412.46 696.04 L414.35 695.64 L416.25 695.26 L418.14 694.89 L420.03 694.52 L421.93 694.17 L423.82 693.82 L425.71 693.49 L427.61 693.15 L429.5 692.83 L431.39 692.5 L433.28 692.19 L435.18 691.87 L437.07 691.56 L438.96 691.26 L440.86 690.95 L442.75 690.65 L444.64 690.36 L446.54 690.06 L448.43 689.77 L450.32 689.48 L452.21 689.2 L454.11 688.91 L456 688.63" fill="none" stroke="#111" stroke-width="1.65" stroke-linejoin="round"/></g>
<path d="M266.7 554.53 h3.6 M266.7 550.74 h3.6 M266.7 548.06 h3.6 M266.7 545.97 h3.6 M266.7 544.27 h3.6 M266.7 542.83 h3.6 M266.7 541.58 h3.6 M266.7 540.48 h3.6 M266.7 561 h8.6 M266.7 576.03 h3.6 M266.7 572.24 h3.6 M266.7 569.56 h3.6 M266.7 567.47 h3.6 M266.7 565.77 h3.6 M266.7 564.33 h3.6 M266.7 563.08 h3.6 M266.7 561.98 h3.6 M266.7 582.5 h8.6 M266.7 597.53 h3.6 M266.7 593.74 h3.6 M266.7 591.06 h3.6 M266.7 588.97 h3.6 M266.7 587.27 h3.6 M266.7 585.83 h3.6 M266.7 584.58 h3.6 M266.7 583.48 h3.6 M266.7 604 h8.6 M266.7 619.03 h3.6 M266.7 615.24 h3.6 M266.7 612.56 h3.6 M266.7 610.47 h3.6 M266.7 608.77 h3.6 M266.7 607.33 h3.6 M266.7 606.08 h3.6 M266.7 604.98 h3.6 M266.7 625.5 h8.6 M266.7 640.53 h3.6 M266.7 636.74 h3.6 M266.7 634.06 h3.6 M266.7 631.97 h3.6 M266.7 630.27 h3.6 M266.7 628.83 h3.6 M266.7 627.58 h3.6 M266.7 626.48 h3.6 M266.7 647 h8.6 M266.7 662.03 h3.6 M266.7 658.24 h3.6 M266.7 655.56 h3.6 M266.7 653.47 h3.6 M266.7 651.77 h3.6 M266.7 650.33 h3.6 M266.7 649.08 h3.6 M266.7 647.98 h3.6 M266.7 668.5 h8.6 M266.7 683.53 h3.6 M266.7 679.74 h3.6 M266.7 677.06 h3.6 M266.7 674.97 h3.6 M266.7 673.27 h3.6 M266.7 671.83 h3.6 M266.7 670.58 h3.6 M266.7 669.48 h3.6 M266.7 690 h8.6 M266.7 705.03 h3.6 M266.7 701.24 h3.6 M266.7 698.56 h3.6 M266.7 696.47 h3.6 M266.7 694.77 h3.6 M266.7 693.33 h3.6 M266.7 692.08 h3.6 M266.7 690.98 h3.6 M266.7 711.5 h8.6 M266.7 726.53 h3.6 M266.7 722.74 h3.6 M266.7 720.06 h3.6 M266.7 717.97 h3.6 M266.7 716.27 h3.6 M266.7 714.83 h3.6 M266.7 713.58 h3.6 M266.7 712.48 h3.6 M266.7 733 h8.6 M266.7 748.03 h3.6 M266.7 744.24 h3.6 M266.7 741.56 h3.6 M266.7 739.47 h3.6 M266.7 737.77 h3.6 M266.7 736.33 h3.6 M266.7 735.08 h3.6 M266.7 733.98 h3.6 M266.7 754.5 h8.6 M266.7 769.53 h3.6 M266.7 765.74 h3.6 M266.7 763.06 h3.6 M266.7 760.97 h3.6 M266.7 759.27 h3.6 M266.7 757.83 h3.6 M266.7 756.58 h3.6 M266.7 755.48 h3.6 M290.36 776.0 v-4.2 M314.02 776.0 v-8.8 M337.69 776.0 v-4.2 M361.35 776.0 v-8.8 M385.01 776.0 v-4.2 M408.68 776.0 v-8.8 M432.34 776.0 v-4.2" stroke="#000" stroke-width="1.1" fill="none"/>
<rect x="266.7" y="539.5" width="189.3" height="236.5" fill="none" stroke="#1c1c1c" stroke-width="1.45"/>
<text x="255.94" y="548.1" font-size="13.3" text-anchor="end">10</text>
<text x="263.1" y="540.8" font-size="8.6" text-anchor="end">-3</text>
<text x="255.94" y="569.41" font-size="13.3" text-anchor="end">10</text>
<text x="263.1" y="562.11" font-size="8.6" text-anchor="end">-4</text>
<text x="255.94" y="590.72" font-size="13.3" text-anchor="end">10</text>
<text x="263.1" y="583.42" font-size="8.6" text-anchor="end">-5</text>
<text x="255.94" y="612.03" font-size="13.3" text-anchor="end">10</text>
<text x="263.1" y="604.73" font-size="8.6" text-anchor="end">-6</text>
<text x="255.94" y="633.34" font-size="13.3" text-anchor="end">10</text>
<text x="263.1" y="626.04" font-size="8.6" text-anchor="end">-7</text>
<text x="255.94" y="654.65" font-size="13.3" text-anchor="end">10</text>
<text x="263.1" y="647.35" font-size="8.6" text-anchor="end">-8</text>
<text x="255.94" y="675.96" font-size="13.3" text-anchor="end">10</text>
<text x="263.1" y="668.66" font-size="8.6" text-anchor="end">-9</text>
<text x="251.64" y="697.27" font-size="13.3" text-anchor="end">10</text>
<text x="263.1" y="689.97" font-size="8.6" text-anchor="end">-10</text>
<text x="251.64" y="718.58" font-size="13.3" text-anchor="end">10</text>
<text x="263.1" y="711.28" font-size="8.6" text-anchor="end">-11</text>
<text x="251.64" y="739.89" font-size="13.3" text-anchor="end">10</text>
<text x="263.1" y="732.59" font-size="8.6" text-anchor="end">-12</text>
<text x="251.64" y="761.2" font-size="13.3" text-anchor="end">10</text>
<text x="263.1" y="753.9" font-size="8.6" text-anchor="end">-13</text>
<text x="251.64" y="782.51" font-size="13.3" text-anchor="end">10</text>
<text x="263.1" y="775.21" font-size="8.6" text-anchor="end">-14</text>
<text x="267.2" y="787" font-size="13" text-anchor="middle">-1</text>
<text x="314.52" y="787" font-size="13" text-anchor="middle">-0.5</text>
<text x="361.85" y="787" font-size="13" text-anchor="middle">0</text>
<text x="409.18" y="787" font-size="13" text-anchor="middle">0.5</text>
<text x="456.5" y="787" font-size="13" text-anchor="middle">1</text>
<text x="361.55" y="799.2" font-size="15.8" text-anchor="middle">Voltage (V)</text>
<line x1="331.2" y1="545.9" x2="349.9" y2="545.9" stroke="#1414ff" stroke-width="1.7"/>
<text x="359.4" y="550.6" font-size="13.3">LRS</text>
<line x1="331.2" y1="559.63" x2="349.9" y2="559.63" stroke="#ff1a1a" stroke-width="1.7"/>
<text x="359.4" y="564.33" font-size="13.3">MRS</text>
<line x1="331.2" y1="573.36" x2="349.9" y2="573.36" stroke="#111" stroke-width="1.7"/>
<text x="359.4" y="578.06" font-size="13.3">HRS</text>
<text x="266.7" y="527.6" font-size="19.1">(e)</text>
<text x="324.7" y="527.6" font-size="19.1"><tspan font-style="italic">d</tspan>=6.91 Å</text>
<clipPath id="cp2"><rect x="492.2" y="539.5" width="189.50000000000006" height="236.5"/></clipPath>
<g clip-path="url(#cp2)"><path d="M492.2 587.69 L494.1 587.74 L495.99 587.79 L497.88 587.84 L499.78 587.9 L501.67 587.96 L503.57 588.02 L505.47 588.09 L507.36 588.17 L509.25 588.25 L511.15 588.33 L513.05 588.43 L514.94 588.52 L516.84 588.63 L518.73 588.73 L520.62 588.83 L522.52 588.94 L524.41 589.06 L526.31 589.2 L528.21 589.37 L530.1 589.55 L532 589.77 L533.89 589.99 L535.79 590.23 L537.68 590.49 L539.58 590.77 L541.47 591.09 L543.37 591.44 L545.26 591.82 L547.16 592.24 L549.05 592.68 L550.95 593.15 L552.84 593.65 L554.74 594.17 L556.63 594.73 L558.53 595.33 L560.42 595.98 L562.32 596.73 L564.21 597.56 L566.11 598.48 L568 599.46 L569.9 600.58 L571.79 601.81 L573.69 603.16 L575.58 604.66 L577.48 606.41 L579.37 608.52 L581.27 611.22 L583.16 615.01 L584.94 620.95 L586.95 937.58 L588.96 620.95 L590.74 615.01 L592.63 611.22 L594.53 608.52 L596.43 606.41 L598.32 604.66 L600.22 603.16 L602.11 601.81 L604 600.58 L605.9 599.46 L607.8 598.48 L609.69 597.56 L611.59 596.73 L613.48 595.98 L615.38 595.33 L617.27 594.73 L619.17 594.17 L621.06 593.65 L622.96 593.15 L624.85 592.68 L626.75 592.24 L628.64 591.82 L630.54 591.44 L632.43 591.09 L634.33 590.77 L636.22 590.49 L638.12 590.23 L640.01 589.99 L641.91 589.77 L643.8 589.55 L645.7 589.37 L647.59 589.2 L649.49 589.06 L651.38 588.94 L653.28 588.83 L655.17 588.73 L657.07 588.63 L658.96 588.52 L660.86 588.43 L662.75 588.33 L664.65 588.25 L666.54 588.17 L668.44 588.09 L670.33 588.02 L672.23 587.96 L674.12 587.9 L676.02 587.84 L677.91 587.79 L679.81 587.74 L681.7 587.69" fill="none" stroke="#1414ff" stroke-width="1.65" stroke-linejoin="round"/><path d="M492.2 652.69 L494.1 653.47 L495.99 654.25 L497.88 655.02 L499.78 655.8 L501.67 656.57 L503.57 657.35 L505.47 658.12 L507.36 658.9 L509.25 659.68 L511.15 660.46 L513.05 661.25 L514.94 662.03 L516.84 662.82 L518.73 663.62 L520.62 664.43 L522.52 665.24 L524.41 666.06 L526.31 666.88 L528.21 667.69 L530.1 668.49 L532 669.27 L533.89 670.04 L535.79 670.82 L537.68 671.61 L539.58 672.39 L541.47 673.17 L543.37 673.94 L545.26 674.69 L547.16 675.42 L549.05 676.13 L550.95 676.83 L552.84 677.54 L554.74 678.26 L556.63 679 L558.53 679.77 L560.42 680.58 L562.32 681.44 L564.21 682.35 L566.11 683.33 L568 684.38 L569.9 685.52 L571.79 686.79 L573.69 688.25 L575.58 689.89 L577.48 691.73 L579.37 693.84 L581.27 696.53 L583.16 700.33 L584.94 706.27 L586.95 937.58 L588.96 706.27 L590.74 700.33 L592.63 696.53 L594.53 693.84 L596.43 691.73 L598.32 689.89 L600.22 688.25 L602.11 686.79 L604 685.52 L605.9 684.38 L607.8 683.33 L609.69 682.35 L611.59 681.44 L613.48 680.58 L615.38 679.77 L617.27 679 L619.17 678.26 L621.06 677.54 L622.96 676.83 L624.85 676.13 L626.75 675.42 L628.64 674.69 L630.54 673.94 L632.43 673.17 L634.33 672.39 L636.22 671.61 L638.12 670.82 L640.01 670.04 L641.91 669.27 L643.8 668.49 L645.7 667.69 L647.59 666.88 L649.49 666.06 L651.38 665.24 L653.28 664.43 L655.17 663.62 L657.07 662.82 L658.96 662.03 L660.86 661.25 L662.75 660.46 L664.65 659.68 L666.54 658.9 L668.44 658.12 L670.33 657.35 L672.23 656.57 L674.12 655.8 L676.02 655.02 L677.91 654.25 L679.81 653.47 L681.7 652.69" fill="none" stroke="#ff1a1a" stroke-width="1.65" stroke-linejoin="round"/><path d="M492.2 721.21 L494.1 721.4 L495.99 721.6 L497.88 721.81 L499.78 722.03 L501.67 722.25 L503.57 722.49 L505.47 722.72 L507.36 722.97 L509.25 723.22 L511.15 723.48 L513.05 723.74 L514.94 724.02 L516.84 724.3 L518.73 724.59 L520.62 724.89 L522.52 725.21 L524.41 725.54 L526.31 725.88 L528.21 726.23 L530.1 726.59 L532 726.96 L533.89 727.33 L535.79 727.72 L537.68 728.12 L539.58 728.54 L541.47 728.97 L543.37 729.42 L545.26 729.88 L547.16 730.38 L549.05 730.89 L550.95 731.44 L552.84 732.01 L554.74 732.61 L556.63 733.25 L558.53 733.93 L560.42 734.66 L562.32 735.44 L564.21 736.29 L566.11 737.21 L568 738.23 L569.9 739.37 L571.79 740.68 L573.69 742.32 L575.58 744.19 L577.48 746.2 L579.37 748.35 L581.27 751.04 L583.16 754.84 L584.94 760.78 L586.95 937.58 L588.96 760.78 L590.74 754.84 L592.63 751.04 L594.53 748.35 L596.43 746.2 L598.32 744.19 L600.22 742.32 L602.11 740.68 L604 739.37 L605.9 738.23 L607.8 737.21 L609.69 736.29 L611.59 735.44 L613.48 734.66 L615.38 733.93 L617.27 733.25 L619.17 732.61 L621.06 732.01 L622.96 731.44 L624.85 730.89 L626.75 730.38 L628.64 729.88 L630.54 729.42 L632.43 728.97 L634.33 728.54 L636.22 728.12 L638.12 727.72 L640.01 727.33 L641.91 726.96 L643.8 726.59 L645.7 726.23 L647.59 725.88 L649.49 725.54 L651.38 725.21 L653.28 724.89 L655.17 724.59 L657.07 724.3 L658.96 724.02 L660.86 723.74 L662.75 723.48 L664.65 723.22 L666.54 722.97 L668.44 722.72 L670.33 722.49 L672.23 722.25 L674.12 722.03 L676.02 721.81 L677.91 721.6 L679.81 721.4 L681.7 721.21" fill="none" stroke="#111" stroke-width="1.65" stroke-linejoin="round"/></g>
<path d="M492.2 554.53 h3.6 M492.2 550.74 h3.6 M492.2 548.06 h3.6 M492.2 545.97 h3.6 M492.2 544.27 h3.6 M492.2 542.83 h3.6 M492.2 541.58 h3.6 M492.2 540.48 h3.6 M492.2 561 h8.6 M492.2 576.03 h3.6 M492.2 572.24 h3.6 M492.2 569.56 h3.6 M492.2 567.47 h3.6 M492.2 565.77 h3.6 M492.2 564.33 h3.6 M492.2 563.08 h3.6 M492.2 561.98 h3.6 M492.2 582.5 h8.6 M492.2 597.53 h3.6 M492.2 593.74 h3.6 M492.2 591.06 h3.6 M492.2 588.97 h3.6 M492.2 587.27 h3.6 M492.2 585.83 h3.6 M492.2 584.58 h3.6 M492.2 583.48 h3.6 M492.2 604 h8.6 M492.2 619.03 h3.6 M492.2 615.24 h3.6 M492.2 612.56 h3.6 M492.2 610.47 h3.6 M492.2 608.77 h3.6 M492.2 607.33 h3.6 M492.2 606.08 h3.6 M492.2 604.98 h3.6 M492.2 625.5 h8.6 M492.2 640.53 h3.6 M492.2 636.74 h3.6 M492.2 634.06 h3.6 M492.2 631.97 h3.6 M492.2 630.27 h3.6 M492.2 628.83 h3.6 M492.2 627.58 h3.6 M492.2 626.48 h3.6 M492.2 647 h8.6 M492.2 662.03 h3.6 M492.2 658.24 h3.6 M492.2 655.56 h3.6 M492.2 653.47 h3.6 M492.2 651.77 h3.6 M492.2 650.33 h3.6 M492.2 649.08 h3.6 M492.2 647.98 h3.6 M492.2 668.5 h8.6 M492.2 683.53 h3.6 M492.2 679.74 h3.6 M492.2 677.06 h3.6 M492.2 674.97 h3.6 M492.2 673.27 h3.6 M492.2 671.83 h3.6 M492.2 670.58 h3.6 M492.2 669.48 h3.6 M492.2 690 h8.6 M492.2 705.03 h3.6 M492.2 701.24 h3.6 M492.2 698.56 h3.6 M492.2 696.47 h3.6 M492.2 694.77 h3.6 M492.2 693.33 h3.6 M492.2 692.08 h3.6 M492.2 690.98 h3.6 M492.2 711.5 h8.6 M492.2 726.53 h3.6 M492.2 722.74 h3.6 M492.2 720.06 h3.6 M492.2 717.97 h3.6 M492.2 716.27 h3.6 M492.2 714.83 h3.6 M492.2 713.58 h3.6 M492.2 712.48 h3.6 M492.2 733 h8.6 M492.2 748.03 h3.6 M492.2 744.24 h3.6 M492.2 741.56 h3.6 M492.2 739.47 h3.6 M492.2 737.77 h3.6 M492.2 736.33 h3.6 M492.2 735.08 h3.6 M492.2 733.98 h3.6 M492.2 754.5 h8.6 M492.2 769.53 h3.6 M492.2 765.74 h3.6 M492.2 763.06 h3.6 M492.2 760.97 h3.6 M492.2 759.27 h3.6 M492.2 757.83 h3.6 M492.2 756.58 h3.6 M492.2 755.48 h3.6 M515.89 776.0 v-4.2 M539.58 776.0 v-8.8 M563.26 776.0 v-4.2 M586.95 776.0 v-8.8 M610.64 776.0 v-4.2 M634.33 776.0 v-8.8 M658.01 776.0 v-4.2" stroke="#000" stroke-width="1.1" fill="none"/>
<rect x="492.2" y="539.5" width="189.50000000000006" height="236.5" fill="none" stroke="#1c1c1c" stroke-width="1.45"/>
<text x="482.84" y="548.1" font-size="13.3" text-anchor="end">10</text>
<text x="490" y="540.8" font-size="8.6" text-anchor="end">-3</text>
<text x="482.84" y="569.41" font-size="13.3" text-anchor="end">10</text>
<text x="490" y="562.11" font-size="8.6" text-anchor="end">-4</text>
<text x="482.84" y="590.72" font-size="13.3" text-anchor="end">10</text>
<text x="490" y="583.42" font-size="8.6" text-anchor="end">-5</text>
<text x="482.84" y="612.03" font-size="13.3" text-anchor="end">10</text>
<text x="490" y="604.73" font-size="8.6" text-anchor="end">-6</text>
<text x="482.84" y="633.34" font-size="13.3" text-anchor="end">10</text>
<text x="490" y="626.04" font-size="8.6" text-anchor="end">-7</text>
<text x="482.84" y="654.65" font-size="13.3" text-anchor="end">10</text>
<text x="490" y="647.35" font-size="8.6" text-anchor="end">-8</text>
<text x="482.84" y="675.96" font-size="13.3" text-anchor="end">10</text>
<text x="490" y="668.66" font-size="8.6" text-anchor="end">-9</text>
<text x="478.54" y="697.27" font-size="13.3" text-anchor="end">10</text>
<text x="490" y="689.97" font-size="8.6" text-anchor="end">-10</text>
<text x="478.54" y="718.58" font-size="13.3" text-anchor="end">10</text>
<text x="490" y="711.28" font-size="8.6" text-anchor="end">-11</text>
<text x="478.54" y="739.89" font-size="13.3" text-anchor="end">10</text>
<text x="490" y="732.59" font-size="8.6" text-anchor="end">-12</text>
<text x="478.54" y="761.2" font-size="13.3" text-anchor="end">10</text>
<text x="490" y="753.9" font-size="8.6" text-anchor="end">-13</text>
<text x="478.54" y="782.51" font-size="13.3" text-anchor="end">10</text>
<text x="490" y="775.21" font-size="8.6" text-anchor="end">-14</text>
<text x="492.7" y="787" font-size="13" text-anchor="middle">-1</text>
<text x="540.08" y="787" font-size="13" text-anchor="middle">-0.5</text>
<text x="587.45" y="787" font-size="13" text-anchor="middle">0</text>
<text x="634.83" y="787" font-size="13" text-anchor="middle">0.5</text>
<text x="682.2" y="787" font-size="13" text-anchor="middle">1</text>
<text x="587.15" y="799.2" font-size="15.8" text-anchor="middle">Voltage (V)</text>
<line x1="556.7" y1="545.9" x2="575.4" y2="545.9" stroke="#1414ff" stroke-width="1.7"/>
<text x="584.9" y="550.6" font-size="13.3">LRS</text>
<line x1="556.7" y1="559.63" x2="575.4" y2="559.63" stroke="#ff1a1a" stroke-width="1.7"/>
<text x="584.9" y="564.33" font-size="13.3">MRS</text>
<line x1="556.7" y1="573.36" x2="575.4" y2="573.36" stroke="#111" stroke-width="1.7"/>
<text x="584.9" y="578.06" font-size="13.3">HRS</text>
<text x="491" y="527.6" font-size="19.1">(f)</text>
<text x="552" y="527.6" font-size="19.1"><tspan font-style="italic">d</tspan>=7.50 Å</text>
<text transform="translate(10.9,657.6) rotate(-90)" font-size="15.2" text-anchor="middle">Current (A)</text>
</g></svg></body></html>
